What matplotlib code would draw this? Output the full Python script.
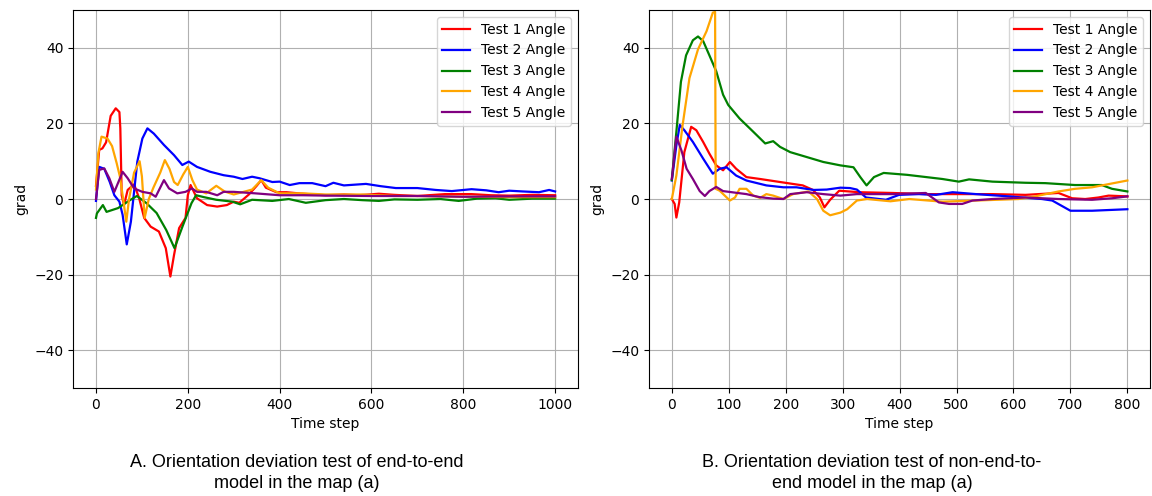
import matplotlib.pyplot as plt

# ---- panel A: end-to-end model ----
a1_x = [0, 7, 14, 22, 32, 43, 51, 53, 56, 61, 69, 83, 94, 105, 119, 137, 152, 162, 170, 181,
        195, 200, 206, 220, 242, 264, 285, 300, 312, 333, 350, 360, 370, 393, 415, 450, 500,
        540, 573, 616, 650, 700, 760, 818, 860, 900, 950, 1000]
a1_y = [3.5, 13, 13.4, 15, 22, 24, 23, 18.7, 1, -1.6, 2.4, 3.9, 0.2, -5, -7.3, -8.6, -13, -20.5,
        -14.8, -7.7, -5, 1, 3.7, 0.2, -1.6, -2, -1.6, -0.7, -1, 1.2, 3.5, 5, 3, 1.8, 1.8, 1.4,
        1, 1.2, 1, 1.4, 1.1, 0.8, 1.3, 1.3, 1.0, 0.9, 1.1, 1.0]

a2_x = [0, 7, 18, 30, 40, 51, 58, 67, 76, 83, 90, 101, 112, 126, 148, 170, 188, 202, 220, 249,
        278, 300, 319, 340, 356, 384, 400, 422, 443, 471, 500, 517, 540, 588, 620, 653, 700,
        740, 775, 818, 850, 877, 900, 930, 965, 987, 1000]
a2_y = [-0.5, 8.5, 8, 4.5, 1, -0.7, -4.2, -12, -6, 2, 9.9, 16, 18.7, 17.3, 14.3, 11.6, 9, 9.9,
        8.5, 7.2, 6.3, 5.9, 5.3, 5.9, 5.5, 4.5, 4.6, 3.7, 4.2, 4.2, 3.4, 4.3, 3.6, 4, 3.4, 2.9,
        2.9, 2.4, 2.1, 2.6, 2.3, 1.8, 2.2, 2.0, 1.8, 2.4, 2.0]

a3_x = [0, 2, 15, 23, 48, 74, 89, 110, 132, 153, 171, 188, 208, 218, 235, 262, 297, 314, 340,
        384, 420, 457, 500, 540, 580, 616, 650, 700, 750, 790, 830, 870, 900, 950, 1000]
a3_y = [-5, -3.8, -1.6, -3.4, -2.4, -0.3, 0.8, -1.1, -3.7, -8.2, -13, -7.4, -1.1, 1, 0.5, -0.2,
        -0.7, -1.4, -0.2, -0.5, 0, -1, -0.3, 0, -0.3, -0.5, -0.1, -0.2, 0, -0.5, 0.1, 0.2, -0.2,
        0.1, 0.1]

a4_x = [0, 5, 12, 25, 35, 45, 52, 58, 66, 72, 83, 95, 100, 106, 115, 125, 140, 150, 160, 170,
        178, 190, 200, 210, 220, 240, 262, 280, 300, 340, 360, 375, 400, 450, 500, 580, 650,
        700, 800, 900, 1000]
a4_y = [2.5, 12, 16.5, 16, 14, 9.5, 6, 1, -6, 0, 7, 10, 6, -5, 0, 3, 7, 10.3, 8, 4.5, 3.7, 6.5,
        8.5, 5, 2.5, 1.5, 3.5, 2, 1.2, 2.5, 5, 3, 1.5, 1.5, 1.2, 1.2, 0.8, 0.8, 0.6, 0.5, 0.5]

a5_x = [0, 7, 18, 29, 40, 58, 69, 83, 101, 119, 130, 148, 159, 177, 195, 209, 220, 240, 264,
        278, 300, 347, 400, 450, 500, 600, 700, 800, 900, 1000]
a5_y = [0, 7.7, 8.1, 5.5, 1.9, 7.2, 5.5, 2.8, 1.9, 1.5, 0.6, 5, 2.8, 1.5, 1.9, 2.8, 1.9, 1.9, 1,
        1.9, 1.9, 1.5, 1.0, 1.0, 0.9, 0.8, 0.8, 0.6, 0.7, 0.7]

# ---- panel B: non-end-to-end model ----
b1_x = [0, 5, 8, 13, 22, 34, 43, 55, 66, 78, 90, 102, 113, 131, 155, 190, 230, 248, 260, 268,
        278, 294, 329, 388, 446, 504, 563, 621, 679, 703, 726, 749, 767, 800]
b1_y = [0, -1.3, -4.9, -0.9, 12.4, 19.1, 18.2, 15.1, 12, 8.9, 7.6, 9.8, 8, 5.8, 5.3, 4.5, 3.6,
        2.4, 0.4, -2.2, -0.2, 2.2, 1.8, 1.6, 1.3, 1.3, 1.3, 1.1, 1.6, 0.2, 0, 0.4, 0.9, 0.7]

b2_x = [0, 8, 14, 22, 37, 55, 72, 84, 96, 113, 131, 166, 196, 219, 249, 272, 296, 313, 325, 341,
        376, 399, 434, 464, 493, 534, 592, 650, 668, 700, 738, 800]
b2_y = [4.9, 14.2, 19.6, 18.2, 15.1, 10.7, 6.7, 8, 8.4, 6.2, 4.9, 3.6, 3.1, 3.1, 2.4, 2.5, 3.0,
        2.9, 2.5, 0.4, -0.2, 1.1, 1.3, 1.1, 1.8, 1.3, 0.7, 0, -0.4, -3.1, -3.1, -2.7]

b3_x = [0, 8, 16, 25, 37, 46, 55, 66, 78, 90, 99, 119, 143, 164, 178, 190, 208, 237, 266, 296,
        319, 331, 342, 355, 372, 413, 475, 504, 522, 563, 621, 656, 708, 755, 773, 800]
b3_y = [5, 17.8, 31, 38, 42, 43, 41.8, 38, 33.8, 27.6, 24.9, 21.3, 17.8, 14.7, 15.3, 13.8, 12.4,
        11.1, 9.8, 8.9, 8.4, 5.8, 3.6, 5.8, 6.9, 6.4, 5.3, 4.6, 5.2, 4.6, 4.3, 4.2, 3.7, 3.7,
        2.7, 2]

b4_x = [0, 8, 19, 31, 46, 61, 72, 76, 77, 84, 102, 111, 119, 131, 143, 155, 166, 178, 196, 213,
        240, 255, 266, 278, 296, 308, 325, 343, 384, 417, 475, 534, 609, 638, 679, 708, 738, 800]
b4_y = [0, 6.2, 19.6, 32, 39.6, 44.4, 49.3, 49.5, 2.7, 2.2, -0.4, 0.4, 2.7, 2.7, 0.9, 0.3, 1.3,
        0.9, 0, 1.3, 2.0, 0, -3.1, -4.3, -3.6, -2.7, -0.4, 0, -0.6, 0, -0.7, -0.4, 0, 0.7, 2,
        2.7, 3.1, 4.9]

b5_x = [0, 8, 17, 26, 37, 49, 58, 66, 78, 90, 131, 154, 178, 196, 208, 237, 266, 296, 325, 388,
        446, 469, 487, 510, 528, 563, 621, 679, 738, 773, 800]
b5_y = [5.3, 16.5, 12.8, 8, 5.3, 2.1, 0.8, 2.1, 3.2, 2.1, 1.3, 0.5, 0.1, 0, 1.3, 1.8, 1.3, 0.9,
        1.3, 1.3, 1.6, -0.9, -1.3, -1.3, -0.4, 0, 0.4, 0, -0.2, 0.2, 0.7]

labels = ["Test 1 Angle", "Test 2 Angle", "Test 3 Angle", "Test 4 Angle", "Test 5 Angle"]
colors = ["red", "blue", "green", "orange", "purple"]

caption_a = "A. Orientation deviation test of end-to-end\nmodel in the map (a)"
caption_b = "B. Orientation deviation test of non-end-to-\nend model in the map (a)"


def draw_panel(ax, series, xticks=None):
    for (x, y), lab, c in zip(series, labels, colors):
        ax.plot(x, y, color=c, label=lab, linewidth=1.6)
    ax.set_ylim(-50, 50)
    if xticks is not None:
        ax.set_xticks(xticks)
    ax.set_xlabel("Time step")
    ax.set_ylabel("grad")
    ax.grid(True)
    ax.legend(loc="upper right")


fig = plt.figure(figsize=(11.52, 4.96), dpi=100)
ax1 = fig.add_axes([0.0634, 0.2177, 0.4384, 0.7621])
ax2 = fig.add_axes([0.5634, 0.2177, 0.4350, 0.7621])

draw_panel(ax1, [(a1_x, a1_y), (a2_x, a2_y), (a3_x, a3_y), (a4_x, a4_y), (a5_x, a5_y)])
draw_panel(ax2, [(b1_x, b1_y), (b2_x, b2_y), (b3_x, b3_y), (b4_x, b4_y), (b5_x, b5_y)],
           xticks=range(0, 801, 100))

cap_font = ["Liberation Sans Narrow", "Liberation Sans", "DejaVu Sans"]
fig.text(297 / 1152, 1 - 473 / 496, caption_a, ha="center", va="center",
         fontsize=13, family=cap_font, linespacing=1.25)
fig.text(872 / 1152, 1 - 473 / 496, caption_b, ha="center", va="center",
         fontsize=13, family=cap_font, linespacing=1.25)

fig.savefig("out.png", dpi=100)
